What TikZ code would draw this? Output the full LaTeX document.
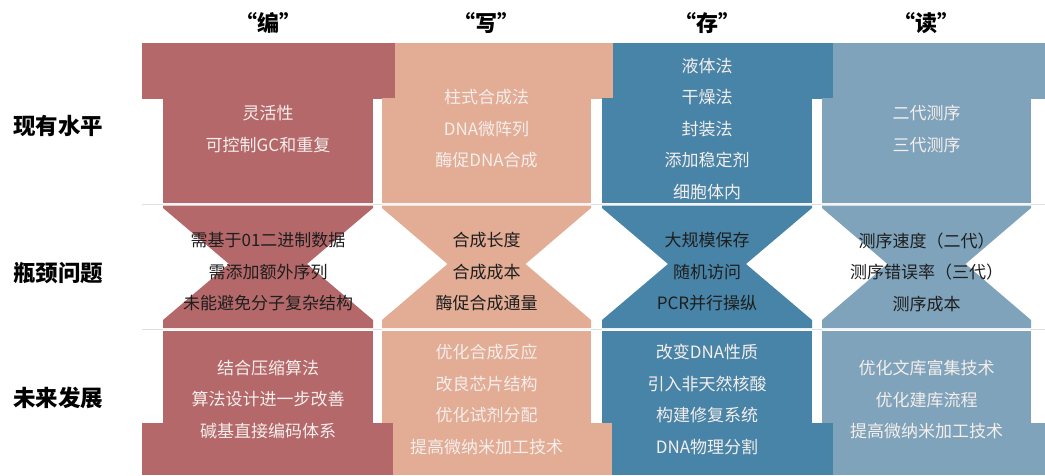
\documentclass[tikz,border=0pt]{standalone}
\usepackage{fontspec}
\setmainfont{Noto Sans CJK SC}[BoldFont={Noto Sans CJK SC Bold}]
\newfontfamily\heavyfont{Noto Sans CJK SC Black}
\definecolor{cred}{HTML}{B5686A}
\definecolor{csal}{HTML}{E3AC95}
\definecolor{cblue}{HTML}{4884A7}
\definecolor{csteel}{HTML}{7FA3BA}
\definecolor{lighttext}{HTML}{F4EEEC}
\definecolor{darktext}{HTML}{1E1E1E}
\tikzset{
  blocktext/.style={align=center,inner sep=0pt,font=\fontsize{17}{31.5}\selectfont},
  toptext/.style={blocktext,text=lighttext},
  midtext/.style={blocktext,text=darktext},
  rowlabel/.style={anchor=west,inner sep=0pt,font=\fontsize{22.5}{26}\selectfont\heavyfont,text=black},
  header/.style={inner sep=0pt,font=\fontsize{22}{26}\selectfont\heavyfont,text=black},
  gapline/.style={white!92!gray,line width=1.6pt},
}
\newcommand{\hourglass}[3]{% L, R, color
  \fill[#3] (#1,205.5) -- (#1,208) -- ({(#1+#2)/2-39},264) -- (#1,320) -- (#1,328)
    -- (#2,328) -- (#2,320) -- ({(#1+#2)/2+39},264) -- (#2,208) -- (#2,205.5) -- cycle;
}
\begin{document}
\begin{tikzpicture}[x=1pt,y=-1pt]
\useasboundingbox (0,0) rectangle (1045,475);
\fill[white] (0,0) rectangle (1045,475);
% separator lines
\draw[gray!25,line width=0.8pt] (142,204.2) -- (1045,204.2);
\draw[gray!25,line width=0.8pt] (142,329.5) -- (1045,329.5);
\foreach \l/\r in {163/373,382/591,602/812,822/1031}{
  \draw[gapline] (\l,204.2) -- (\r,204.2);
  \draw[gapline] (\l,329.5) -- (\r,329.5);
}
% top bands
\fill[cred]   (142,43) rectangle (395,98.5);
\fill[csal]   (395,43) rectangle (613,98.5);
\fill[cblue]  (613,43) rectangle (833,98.5);
\fill[csteel] (833,43) rectangle (1045,98.5);
% top narrow rects
\fill[cred]   (163,98) rectangle (373,203);
\fill[csal]   (382,98) rectangle (591,203);
\fill[cblue]  (602,98) rectangle (812,203);
\fill[csteel] (822,98) rectangle (1031,203);
% hourglasses
\hourglass{163}{373}{cred}
\hourglass{382}{591}{csal}
\hourglass{602}{812}{cblue}
\hourglass{822}{1031}{csteel}
% bottom narrow rects
\fill[cred]   (163,331) rectangle (373,424);
\fill[csal]   (382,331) rectangle (591,424);
\fill[cblue]  (602,331) rectangle (812,424);
\fill[csteel] (822,331) rectangle (1031,424);
% bottom bands
\fill[cred]   (142,423) rectangle (393,475);
\fill[csal]   (393,423) rectangle (612,475);
\fill[cblue]  (612,423) rectangle (833,475);
\fill[csteel] (833,423) rectangle (1045,475);
% headers
\node[header] (h1) at (268,23) {“编”};
\node[header] (h2) at (486.5,23) {“写”};
\node[header] (h3) at (707,23) {“存”};
\node[header] (h4) at (926.5,23) {“读”};
% row labels
\node[rowlabel] (r1) at (13,126) {现有水平};
\node[rowlabel] (r2) at (13,273) {瓶颈问题};
\node[rowlabel] (r3) at (13,398) {未来发展};
% top texts
\node[toptext] (t1) at (268,129) {灵活性\\可控制GC和重复};
\node[toptext] (t2) at (486.5,129) {柱式合成法\\DNA微阵列\\酶促DNA合成};
\node[toptext] (t3) at (707,129) {液体法\\干燥法\\封装法\\添加稳定剂\\细胞体内};
\node[toptext] (t4) at (926.5,129) {二代测序\\三代测序};
% middle texts
\node[midtext] (m1) at (268,272) {需基于01二进制数据\\需添加额外序列\\未能避免分子复杂结构};
\node[midtext] (m2) at (486.5,272) {合成长度\\合成成本\\酶促合成通量};
\node[midtext] (m3) at (707,272) {大规模保存\\随机访问\\PCR并行操纵};
\node[midtext] (m4) at (926.5,272) {测序速度（二代）\\测序错误率（三代）\\测序成本};
% bottom texts
\node[toptext] (b1) at (268,399.5) {结合压缩算法\\算法设计进一步改善\\碱基直接编码体系};
\node[toptext] (b2) at (486.5,399.5) {优化合成反应\\改良芯片结构\\优化试剂分配\\提高微纳米加工技术};
\node[toptext] (b3) at (707,399.5) {改变DNA性质\\引入非天然核酸\\构建修复系统\\DNA物理分割};
\node[toptext] (b4) at (926.5,399.5) {优化文库富集技术\\优化建库流程\\提高微纳米加工技术};
\end{tikzpicture}
\end{document}
